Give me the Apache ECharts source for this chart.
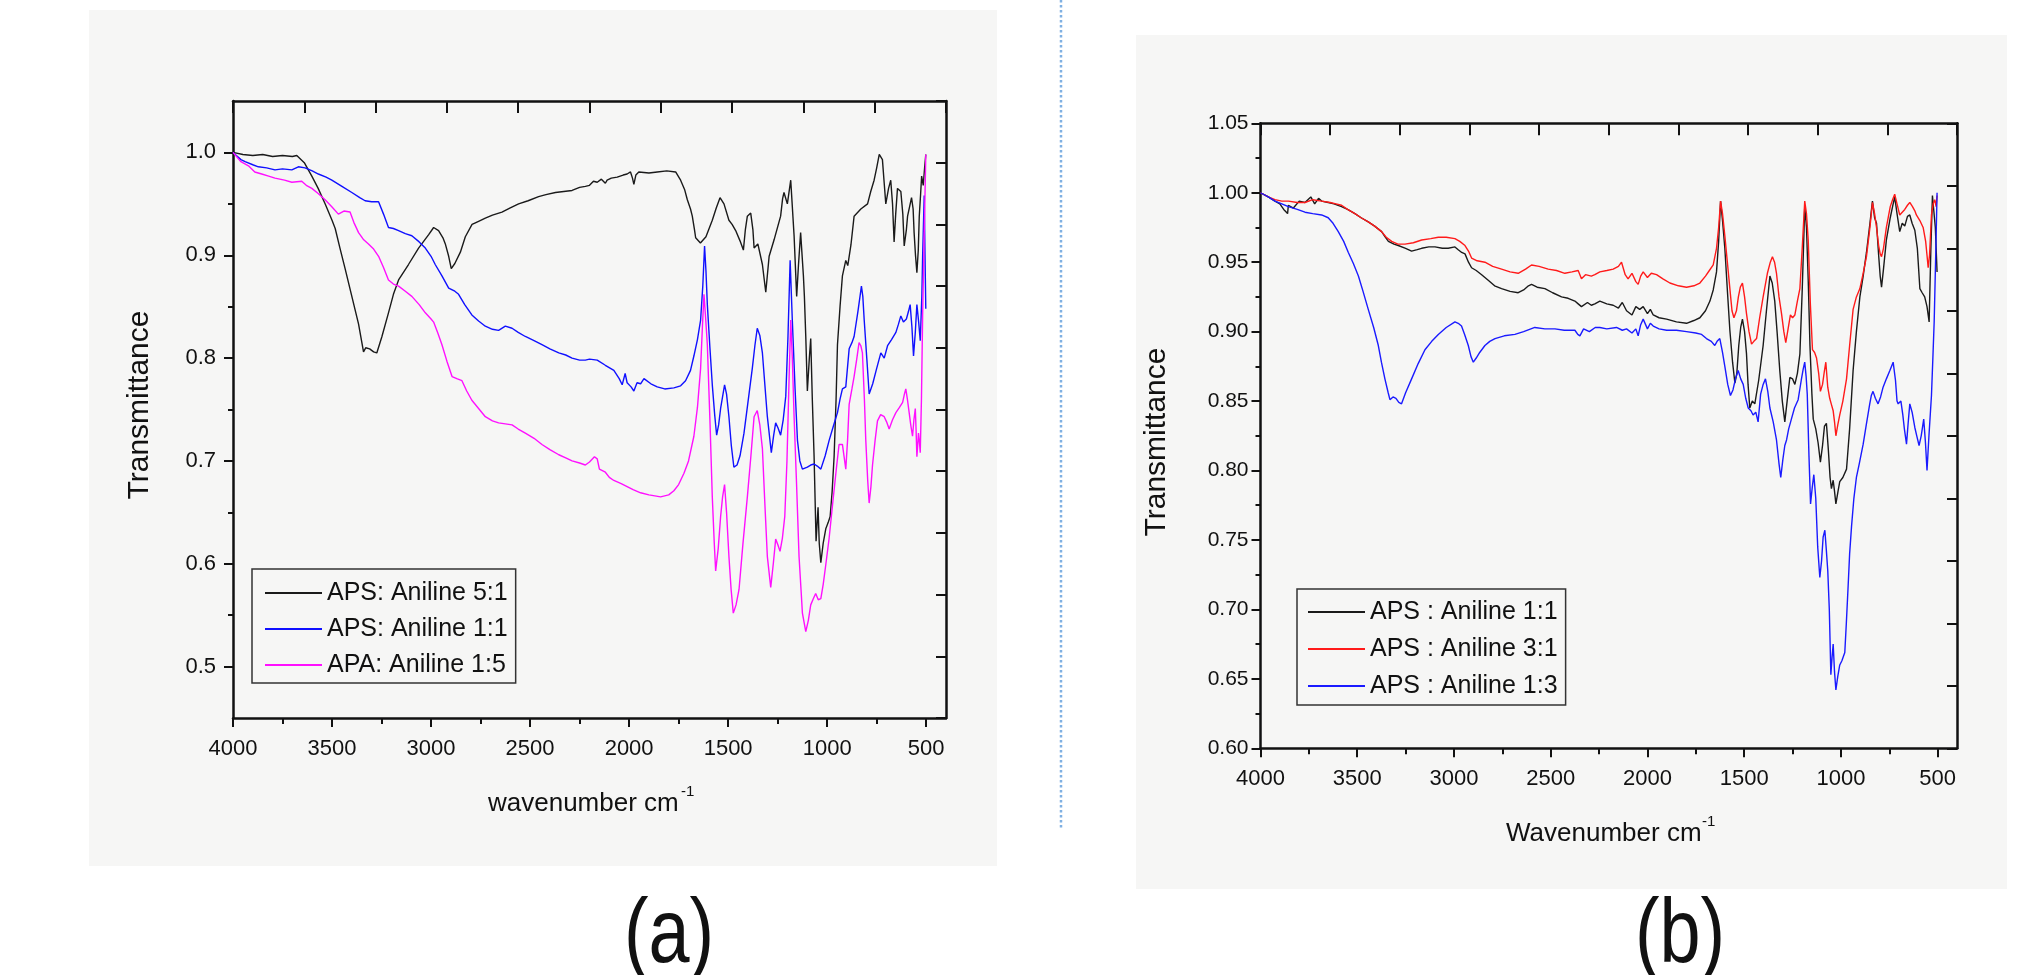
<!DOCTYPE html>
<html>
<head>
<meta charset="utf-8">
<script src="https://cdn.jsdelivr.net/npm/echarts@6/dist/echarts.min.js"></script>
<style>
html,body{margin:0;padding:0;background:#fff;}
#c{width:2017px;height:975px;}
</style>
</head>
<body>
<div id="c"></div>
<script>
// ---------------- DATA ----------------
const seriesNamesA = ['APS: Aniline 5:1', 'APS: Aniline 1:1', 'APA: Aniline 1:5'];
const seriesNamesB = ['APS : Aniline 1:1', 'APS : Aniline 3:1', 'APS : Aniline 1:3'];
const xTickLabels = [4000, 3500, 3000, 2500, 2000, 1500, 1000, 500];
const xMinorTicks = [3750, 3250, 2750, 2250, 1750, 1250, 750];
const yTickLabelsA = [0.5, 0.6, 0.7, 0.8, 0.9, 1.0];
const yMinorTicksA = [0.55, 0.65, 0.75, 0.85, 0.95];
const yTickLabelsB = [0.60, 0.65, 0.70, 0.75, 0.80, 0.85, 0.90, 0.95, 1.00, 1.05];
const yMinorTicksB = [0.625, 0.675, 0.725, 0.775, 0.825, 0.875, 0.925, 0.975, 1.025];

// (a) APS: Aniline 5:1  [wavenumber, transmittance]
const aBlack = [[4000,1.000],[3950,0.998],[3900,0.997],[3850,0.998],[3800,0.996],[3750,0.997],[3700,0.996],[3678,0.997],[3640,0.990],[3602,0.977],[3570,0.965],[3535,0.950],[3500,0.934],[3484,0.926],[3460,0.907],[3434,0.887],[3400,0.860],[3366,0.833],[3341,0.806],[3330,0.810],[3310,0.809],[3290,0.806],[3274,0.805],[3248,0.821],[3215,0.844],[3190,0.862],[3164,0.876],[3114,0.891],[3063,0.907],[3012,0.920],[2987,0.927],[2962,0.924],[2940,0.917],[2928,0.911],[2911,0.899],[2898,0.887],[2880,0.892],[2852,0.903],[2827,0.918],[2793,0.930],[2760,0.933],[2726,0.936],[2690,0.939],[2642,0.942],[2600,0.946],[2558,0.950],[2510,0.953],[2457,0.957],[2420,0.959],[2372,0.961],[2330,0.962],[2288,0.963],[2250,0.966],[2221,0.967],[2200,0.968],[2180,0.972],[2161,0.971],[2140,0.974],[2120,0.970],[2111,0.973],[2090,0.975],[2060,0.976],[2030,0.978],[2010,0.979],[1993,0.981],[1983,0.975],[1976,0.969],[1966,0.978],[1951,0.981],[1900,0.980],[1858,0.981],[1810,0.982],[1765,0.981],[1740,0.973],[1720,0.964],[1706,0.954],[1690,0.945],[1681,0.938],[1670,0.925],[1664,0.917],[1640,0.912],[1630,0.912],[1612,0.918],[1580,0.934],[1560,0.946],[1541,0.956],[1521,0.950],[1496,0.934],[1480,0.930],[1462,0.924],[1440,0.914],[1423,0.905],[1413,0.925],[1403,0.938],[1386,0.941],[1375,0.925],[1369,0.907],[1350,0.911],[1327,0.891],[1310,0.864],[1293,0.899],[1268,0.915],[1235,0.938],[1225,0.955],[1218,0.961],[1201,0.950],[1184,0.973],[1167,0.919],[1154,0.860],[1145,0.890],[1134,0.922],[1120,0.880],[1115,0.860],[1108,0.821],[1100,0.768],[1090,0.800],[1083,0.819],[1075,0.760],[1066,0.704],[1056,0.622],[1046,0.655],[1040,0.620],[1032,0.601],[1020,0.620],[1007,0.634],[995,0.640],[985,0.646],[975,0.670],[965,0.704],[955,0.760],[948,0.813],[935,0.850],[923,0.880],[906,0.895],[896,0.890],[880,0.910],[864,0.938],[830,0.945],[796,0.950],[780,0.962],[763,0.973],[750,0.985],[737,0.998],[721,0.993],[712,0.970],[704,0.950],[690,0.965],[679,0.973],[670,0.950],[662,0.913],[654,0.940],[645,0.965],[628,0.962],[618,0.940],[611,0.909],[600,0.925],[594,0.938],[574,0.956],[566,0.945],[561,0.922],[554,0.900],[547,0.883],[540,0.905],[535,0.938],[528,0.960],[523,0.977],[515,0.968],[508,0.985],[502,0.998]];

// (a) APS: Aniline 1:1
const aBlue = [[4000,1.000],[3960,0.993],[3939,0.991],[3900,0.988],[3872,0.986],[3830,0.985],[3788,0.983],[3750,0.984],[3703,0.983],[3670,0.986],[3636,0.985],[3600,0.982],[3569,0.979],[3530,0.976],[3501,0.973],[3450,0.967],[3400,0.961],[3360,0.956],[3333,0.953],[3300,0.952],[3265,0.952],[3240,0.940],[3215,0.927],[3190,0.926],[3164,0.924],[3130,0.921],[3097,0.919],[3060,0.913],[3029,0.907],[3000,0.899],[2979,0.891],[2945,0.880],[2911,0.868],[2880,0.865],[2861,0.862],[2830,0.852],[2794,0.842],[2760,0.836],[2726,0.831],[2690,0.828],[2659,0.827],[2625,0.831],[2591,0.829],[2560,0.825],[2524,0.821],[2480,0.817],[2440,0.813],[2400,0.809],[2355,0.805],[2320,0.803],[2288,0.800],[2250,0.798],[2221,0.798],[2200,0.799],[2161,0.798],[2120,0.793],[2077,0.788],[2050,0.780],[2035,0.774],[2020,0.785],[2010,0.776],[1990,0.772],[1976,0.768],[1960,0.776],[1942,0.775],[1925,0.780],[1890,0.775],[1858,0.772],[1820,0.770],[1774,0.771],[1740,0.773],[1715,0.778],[1690,0.788],[1673,0.802],[1655,0.818],[1639,0.837],[1628,0.870],[1619,0.909],[1612,0.885],[1605,0.852],[1592,0.810],[1580,0.774],[1568,0.745],[1558,0.725],[1548,0.735],[1538,0.751],[1518,0.774],[1508,0.765],[1496,0.743],[1484,0.715],[1471,0.694],[1455,0.696],[1440,0.705],[1420,0.727],[1400,0.757],[1378,0.790],[1365,0.812],[1353,0.829],[1340,0.822],[1327,0.805],[1315,0.775],[1302,0.743],[1282,0.708],[1270,0.725],[1260,0.737],[1248,0.732],[1235,0.725],[1222,0.740],[1209,0.763],[1198,0.820],[1187,0.895],[1176,0.837],[1162,0.770],[1150,0.720],[1138,0.700],[1125,0.692],[1100,0.694],[1083,0.696],[1066,0.697],[1050,0.695],[1032,0.692],[1010,0.705],[990,0.720],[970,0.733],[948,0.747],[935,0.760],[923,0.770],[906,0.772],[889,0.809],[875,0.815],[864,0.821],[845,0.845],[827,0.870],[820,0.860],[813,0.837],[800,0.800],[788,0.765],[770,0.775],[750,0.790],[729,0.805],[712,0.800],[695,0.812],[675,0.818],[653,0.825],[640,0.833],[628,0.841],[615,0.835],[600,0.838],[590,0.845],[581,0.852],[572,0.830],[564,0.802],[555,0.825],[547,0.852],[538,0.835],[530,0.817],[522,0.860],[518,0.899],[510,0.958],[506,0.900],[502,0.848]];

// (a) APA: Aniline 1:5
const aMagenta = [[4000,1.000],[3960,0.991],[3922,0.987],[3890,0.981],[3855,0.979],[3820,0.977],[3788,0.975],[3740,0.973],[3703,0.971],[3653,0.972],[3630,0.968],[3602,0.965],[3570,0.960],[3535,0.954],[3500,0.947],[3468,0.940],[3440,0.943],[3409,0.942],[3390,0.932],[3366,0.922],[3340,0.915],[3316,0.911],[3290,0.906],[3265,0.899],[3240,0.888],[3215,0.876],[3190,0.872],[3164,0.870],[3130,0.865],[3097,0.860],[3060,0.852],[3029,0.844],[3000,0.838],[2987,0.835],[2965,0.824],[2945,0.813],[2920,0.797],[2894,0.782],[2870,0.780],[2844,0.778],[2820,0.768],[2794,0.759],[2760,0.751],[2726,0.743],[2690,0.739],[2659,0.737],[2625,0.736],[2591,0.735],[2560,0.731],[2524,0.727],[2480,0.722],[2440,0.716],[2400,0.711],[2355,0.706],[2320,0.703],[2288,0.700],[2250,0.698],[2221,0.696],[2200,0.699],[2175,0.704],[2161,0.702],[2150,0.692],[2120,0.689],[2100,0.684],[2077,0.681],[2040,0.678],[2010,0.675],[1980,0.672],[1942,0.669],[1900,0.667],[1870,0.666],[1841,0.665],[1800,0.667],[1774,0.671],[1750,0.677],[1723,0.688],[1700,0.700],[1673,0.724],[1655,0.752],[1639,0.790],[1630,0.830],[1622,0.862],[1614,0.840],[1605,0.813],[1592,0.740],[1580,0.665],[1570,0.620],[1563,0.593],[1550,0.615],[1538,0.646],[1528,0.665],[1518,0.677],[1508,0.650],[1496,0.607],[1485,0.575],[1474,0.552],[1460,0.560],[1445,0.575],[1425,0.620],[1403,0.665],[1385,0.705],[1369,0.743],[1353,0.749],[1340,0.735],[1327,0.712],[1315,0.660],[1302,0.607],[1285,0.577],[1272,0.600],[1260,0.624],[1248,0.618],[1238,0.612],[1226,0.625],[1214,0.646],[1203,0.700],[1192,0.782],[1184,0.837],[1176,0.800],[1167,0.743],[1155,0.680],[1142,0.607],[1132,0.575],[1125,0.552],[1108,0.534],[1095,0.545],[1083,0.560],[1070,0.566],[1058,0.571],[1045,0.565],[1032,0.566],[1020,0.580],[1007,0.599],[990,0.625],[973,0.657],[955,0.690],[940,0.716],[923,0.716],[906,0.692],[897,0.720],[889,0.755],[875,0.770],[864,0.782],[850,0.800],[839,0.815],[830,0.812],[822,0.805],[812,0.760],[805,0.720],[795,0.680],[788,0.659],[779,0.675],[771,0.696],[758,0.720],[746,0.739],[730,0.745],[712,0.743],[700,0.738],[687,0.731],[670,0.740],[653,0.747],[635,0.752],[619,0.757],[610,0.765],[603,0.770],[595,0.760],[586,0.747],[578,0.735],[569,0.724],[562,0.740],[555,0.751],[551,0.730],[547,0.704],[543,0.715],[539,0.727],[534,0.718],[530,0.708],[524,0.760],[518,0.841],[510,0.920],[502,0.998]];

// (b) APS : Aniline 1:1
const bBlack = [[4000,1.000],[3960,0.997],[3925,0.994],[3900,0.992],[3880,0.988],[3860,0.985],[3856,0.991],[3830,0.989],[3800,0.994],[3770,0.993],[3740,0.997],[3720,0.992],[3700,0.996],[3684,0.994],[3650,0.993],[3620,0.992],[3581,0.990],[3550,0.988],[3512,0.985],[3480,0.982],[3443,0.979],[3410,0.976],[3374,0.972],[3355,0.968],[3339,0.965],[3310,0.963],[3288,0.962],[3250,0.960],[3219,0.958],[3190,0.959],[3167,0.960],[3130,0.961],[3098,0.961],[3060,0.960],[3030,0.960],[2995,0.961],[2978,0.959],[2960,0.957],[2943,0.956],[2925,0.950],[2909,0.946],[2885,0.944],[2857,0.941],[2840,0.939],[2823,0.937],[2790,0.933],[2754,0.931],[2710,0.929],[2668,0.928],[2640,0.930],[2615,0.933],[2599,0.934],[2570,0.932],[2530,0.931],[2490,0.928],[2444,0.925],[2410,0.924],[2375,0.922],[2358,0.920],[2341,0.918],[2310,0.921],[2290,0.919],[2272,0.920],[2246,0.922],[2210,0.920],[2177,0.919],[2150,0.917],[2130,0.921],[2108,0.915],[2080,0.912],[2060,0.918],[2040,0.916],[2022,0.918],[2000,0.913],[1985,0.916],[1970,0.912],[1940,0.910],[1901,0.909],[1850,0.907],[1798,0.906],[1760,0.908],[1729,0.910],[1700,0.915],[1677,0.922],[1660,0.930],[1643,0.943],[1632,0.965],[1622,0.994],[1612,0.980],[1600,0.960],[1587,0.930],[1574,0.901],[1560,0.878],[1548,0.863],[1538,0.870],[1528,0.890],[1518,0.903],[1509,0.909],[1498,0.900],[1488,0.884],[1480,0.862],[1471,0.845],[1458,0.850],[1445,0.848],[1425,0.865],[1402,0.890],[1385,0.915],[1367,0.940],[1355,0.935],[1342,0.922],[1330,0.900],[1316,0.872],[1303,0.850],[1290,0.835],[1278,0.850],[1264,0.867],[1250,0.866],[1238,0.862],[1225,0.870],[1212,0.884],[1200,0.930],[1187,0.990],[1178,0.975],[1169,0.937],[1160,0.890],[1150,0.855],[1143,0.837],[1130,0.830],[1118,0.820],[1106,0.806],[1095,0.818],[1085,0.832],[1075,0.834],[1065,0.815],[1056,0.795],[1049,0.787],[1040,0.793],[1033,0.785],[1026,0.776],[1015,0.785],[1006,0.792],[990,0.795],[971,0.801],[955,0.830],[937,0.872],[920,0.900],[902,0.925],[885,0.940],[868,0.957],[850,0.978],[837,0.994],[826,0.982],[816,0.978],[805,0.955],[797,0.940],[790,0.932],[780,0.945],[765,0.966],[745,0.982],[733,0.990],[722,0.997],[710,0.985],[696,0.972],[683,0.978],[670,0.976],[656,0.983],[644,0.984],[632,0.978],[618,0.973],[605,0.960],[592,0.931],[580,0.928],[567,0.925],[555,0.918],[544,0.907],[535,0.960],[527,0.998],[520,0.997],[512,0.975],[503,0.943]];

// (b) APS : Aniline 3:1
const bRed = [[4000,1.000],[3960,0.997],[3925,0.995],[3890,0.994],[3856,0.994],[3810,0.993],[3770,0.993],[3730,0.995],[3684,0.994],[3640,0.993],[3610,0.992],[3581,0.991],[3550,0.988],[3512,0.985],[3480,0.982],[3443,0.979],[3410,0.976],[3374,0.972],[3350,0.968],[3322,0.965],[3290,0.963],[3253,0.963],[3210,0.964],[3167,0.966],[3120,0.967],[3081,0.968],[3040,0.968],[2995,0.967],[2970,0.965],[2943,0.962],[2925,0.958],[2909,0.953],[2880,0.951],[2840,0.950],[2800,0.947],[2754,0.945],[2710,0.943],[2668,0.942],[2630,0.945],[2599,0.948],[2560,0.947],[2513,0.945],[2470,0.944],[2427,0.942],[2390,0.943],[2358,0.944],[2341,0.938],[2320,0.941],[2290,0.940],[2272,0.941],[2246,0.943],[2210,0.944],[2177,0.945],[2150,0.947],[2134,0.950],[2115,0.941],[2100,0.938],[2080,0.942],[2060,0.936],[2048,0.934],[2035,0.940],[2022,0.943],[2000,0.939],[1980,0.942],[1953,0.941],[1920,0.938],[1884,0.935],[1840,0.933],[1798,0.932],[1760,0.933],[1729,0.935],[1700,0.940],[1680,0.944],[1660,0.948],[1643,0.960],[1632,0.975],[1622,0.994],[1612,0.985],[1600,0.969],[1587,0.950],[1574,0.931],[1563,0.915],[1553,0.910],[1540,0.915],[1530,0.925],[1520,0.932],[1509,0.935],[1498,0.925],[1488,0.913],[1475,0.900],[1462,0.891],[1450,0.893],[1436,0.895],[1420,0.910],[1402,0.925],[1380,0.942],[1365,0.950],[1354,0.954],[1343,0.950],[1333,0.942],[1320,0.925],[1307,0.913],[1295,0.900],[1285,0.892],[1273,0.902],[1261,0.912],[1250,0.910],[1238,0.912],[1225,0.922],[1212,0.931],[1200,0.960],[1187,0.994],[1178,0.985],[1169,0.966],[1158,0.920],[1147,0.887],[1136,0.885],[1126,0.881],[1115,0.870],[1106,0.857],[1095,0.862],[1085,0.872],[1078,0.878],[1068,0.860],[1058,0.852],[1050,0.848],[1040,0.843],[1033,0.835],[1026,0.825],[1016,0.833],[1006,0.840],[990,0.850],[971,0.866],[955,0.890],[937,0.916],[920,0.925],[902,0.931],[885,0.942],[868,0.954],[850,0.975],[837,0.993],[826,0.985],[816,0.975],[805,0.962],[797,0.956],[790,0.954],[780,0.960],[765,0.975],[745,0.990],[733,0.995],[722,0.999],[710,0.992],[696,0.984],[683,0.986],[670,0.988],[656,0.991],[644,0.993],[630,0.990],[618,0.987],[610,0.984],[592,0.980],[575,0.975],[562,0.965],[555,0.955],[549,0.946],[542,0.955],[532,0.984],[523,0.992],[515,0.995],[508,0.990],[503,0.998]];

// (b) APS : Aniline 1:3
const bBlue = [[4000,1.000],[3960,0.997],[3925,0.994],[3890,0.992],[3856,0.990],[3810,0.988],[3770,0.986],[3730,0.985],[3684,0.984],[3650,0.982],[3625,0.978],[3598,0.972],[3570,0.965],[3546,0.957],[3520,0.949],[3494,0.940],[3470,0.929],[3443,0.916],[3415,0.903],[3391,0.890],[3375,0.878],[3357,0.866],[3340,0.856],[3331,0.851],[3315,0.853],[3300,0.852],[3285,0.849],[3271,0.848],[3250,0.856],[3219,0.866],[3185,0.877],[3150,0.887],[3115,0.893],[3081,0.898],[3040,0.903],[2995,0.907],[2978,0.906],[2961,0.904],[2945,0.898],[2926,0.890],[2912,0.882],[2900,0.878],[2885,0.881],[2867,0.885],[2840,0.890],[2815,0.893],[2788,0.895],[2740,0.897],[2685,0.898],[2640,0.900],[2582,0.903],[2530,0.902],[2478,0.902],[2430,0.901],[2375,0.901],[2360,0.898],[2349,0.897],[2330,0.902],[2300,0.900],[2270,0.903],[2246,0.903],[2210,0.902],[2160,0.903],[2130,0.901],[2108,0.902],[2080,0.899],[2060,0.902],[2048,0.897],[2035,0.905],[2022,0.909],[2000,0.902],[1985,0.906],[1970,0.904],[1940,0.902],[1901,0.901],[1850,0.901],[1798,0.900],[1750,0.899],[1720,0.898],[1695,0.895],[1670,0.893],[1652,0.890],[1640,0.893],[1626,0.895],[1612,0.885],[1600,0.875],[1585,0.862],[1571,0.854],[1558,0.858],[1545,0.866],[1531,0.872],[1518,0.866],[1505,0.862],[1492,0.852],[1479,0.845],[1465,0.843],[1454,0.840],[1440,0.842],[1428,0.835],[1415,0.855],[1402,0.862],[1390,0.866],[1378,0.857],[1367,0.845],[1350,0.835],[1333,0.822],[1320,0.805],[1311,0.795],[1300,0.808],[1290,0.818],[1281,0.822],[1270,0.830],[1256,0.837],[1240,0.845],[1221,0.851],[1205,0.865],[1195,0.873],[1187,0.878],[1180,0.868],[1174,0.855],[1165,0.810],[1157,0.776],[1148,0.788],[1140,0.797],[1130,0.780],[1120,0.745],[1109,0.723],[1100,0.735],[1092,0.752],[1083,0.757],[1075,0.742],[1068,0.728],[1060,0.700],[1052,0.653],[1046,0.665],[1040,0.675],[1033,0.655],[1026,0.642],[1016,0.652],[1006,0.660],[995,0.663],[980,0.669],[972,0.690],[963,0.716],[955,0.740],[945,0.760],[933,0.780],[920,0.795],[905,0.805],[885,0.819],[870,0.832],[851,0.848],[843,0.854],[834,0.857],[822,0.852],[808,0.848],[795,0.853],[782,0.860],[765,0.866],[747,0.872],[730,0.878],[718,0.865],[710,0.850],[704,0.848],[690,0.850],[680,0.840],[672,0.830],[661,0.819],[652,0.835],[644,0.848],[632,0.842],[618,0.831],[608,0.825],[596,0.818],[585,0.825],[572,0.837],[563,0.820],[555,0.800],[545,0.825],[532,0.854],[525,0.880],[518,0.907],[510,0.955],[503,1.000]];

// ---------------- CHART ----------------
const FONT = "'Liberation Sans', Arial, Helvetica, sans-serif";
const INK = '#111';

function xMain(g) {
  return { gridIndex: g, type: 'value', position: 'bottom', inverse: true, min: 400, max: 4000,
    axisLine: { show: true, onZero: false, lineStyle: { color: INK, width: 2.5 } },
    axisTick: { show: true, inside: false, length: 9, customValues: xTickLabels, lineStyle: { color: INK, width: 2 } },
    axisLabel: { show: true, customValues: xTickLabels, margin: 20, fontSize: 22, color: INK, fontFamily: FONT,
      formatter: v => String(Math.round(v)) },
    splitLine: { show: false } };
}
function xMinor(g) {
  return { gridIndex: g, type: 'value', position: 'bottom', inverse: true, min: 400, max: 4000,
    axisLine: { show: false, onZero: false },
    axisTick: { show: true, inside: false, length: 6, customValues: xMinorTicks, lineStyle: { color: INK, width: 2 } },
    axisLabel: { show: false }, splitLine: { show: false } };
}
function xTop(g) {
  return { gridIndex: g, type: 'value', position: 'top', min: 0, max: 10, interval: 1,
    axisLine: { show: true, onZero: false, lineStyle: { color: INK, width: 2.5 } },
    axisTick: { show: true, inside: true, length: 12, lineStyle: { color: INK, width: 2 } },
    axisLabel: { show: false }, splitLine: { show: false } };
}
function yMain(g, min, max, labels, dec, margin, fs) {
  return { gridIndex: g, type: 'value', position: 'left', min: min, max: max,
    axisLine: { show: true, onZero: false, lineStyle: { color: INK, width: 2.5 } },
    axisTick: { show: true, inside: false, length: 9, customValues: labels, lineStyle: { color: INK, width: 2 } },
    axisLabel: { show: true, customValues: labels, margin: margin, fontSize: fs, color: INK, fontFamily: FONT,
      formatter: v => Number(v).toFixed(dec) },
    splitLine: { show: false } };
}
function yMinor(g, min, max, ticks) {
  return { gridIndex: g, type: 'value', position: 'left', min: min, max: max,
    axisLine: { show: false, onZero: false },
    axisTick: { show: true, inside: false, length: 5, customValues: ticks, lineStyle: { color: INK, width: 2 } },
    axisLabel: { show: false }, splitLine: { show: false } };
}
function yRight(g) {
  return { gridIndex: g, type: 'value', position: 'right', min: 0, max: 10, interval: 1,
    axisLine: { show: true, onZero: false, lineStyle: { color: INK, width: 2.5 } },
    axisTick: { show: true, inside: true, length: 10, lineStyle: { color: INK, width: 2 } },
    axisLabel: { show: false }, splitLine: { show: false } };
}
function line(name, data, color, xi, yi) {
  return { name: name, type: 'line', data: data, xAxisIndex: xi, yAxisIndex: yi,
    showSymbol: false, symbol: 'none', smooth: false, color: color,
    lineStyle: { color: color, width: 1.4 }, itemStyle: { color: color },
    emphasis: { disabled: true }, silent: true, z: 3 };
}
function legendCfg(names, left, top, padding, gap) {
  return { data: names, orient: 'vertical', left: left, top: top, padding: padding,
    itemGap: gap, itemWidth: 57, itemHeight: 2, icon: 'rect', selectedMode: false,
    borderColor: '#333', borderWidth: 1.5, backgroundColor: 'rgba(0,0,0,0)',
    textStyle: { fontSize: 25, fontFamily: FONT, color: INK, lineHeight: 30 } };
}
function txt(text, x, y, size, opts) {
  opts = opts || {};
  return { type: 'text', x: x, y: y, rotation: opts.rotation || 0, scaleX: opts.scaleX || 1, z: 10, silent: true,
    style: { text: text, fontSize: size, fontFamily: FONT, fill: INK,
      align: opts.align || 'left', verticalAlign: opts.va || 'middle' } };
}

const chart = echarts.init(document.getElementById('c'), null, { renderer: 'canvas' });
chart.setOption({
  animation: false,
  backgroundColor: '#ffffff',
  grid: [
    { left: 233, top: 101, width: 713, height: 617, outerBoundsMode: 'none', containLabel: false },
    { left: 1260.5, top: 123.3, width: 696.5, height: 625, outerBoundsMode: 'none', containLabel: false }
  ],
  xAxis: [xMain(0), xMinor(0), xTop(0), xMain(1), xMinor(1), xTop(1)],
  yAxis: [
    yMain(0, 0.45, 1.05, yTickLabelsA, 1, 17, 22), yMinor(0, 0.45, 1.05, yMinorTicksA), yRight(0),
    yMain(1, 0.60, 1.05, yTickLabelsB, 2, 12, 21), yMinor(1, 0.60, 1.05, yMinorTicksB), yRight(1)
  ],
  legend: [
    legendCfg(seriesNamesA, 252, 569, [9, 8, 3, 13], 6),
    legendCfg(seriesNamesB, 1297, 589, [8, 8, 4, 11], 7)
  ],
  series: [
    line(seriesNamesA[0], aBlack, '#1a1a1a', 0, 0),
    line(seriesNamesA[1], aBlue, '#1010ff', 0, 0),
    line(seriesNamesA[2], aMagenta, '#ff10ff', 0, 0),
    line(seriesNamesB[0], bBlack, '#1a1a1a', 3, 3),
    line(seriesNamesB[1], bRed, '#ff1a1a', 3, 3),
    line(seriesNamesB[2], bBlue, '#1a1aff', 3, 3)
  ],
  graphic: [
    { type: 'rect', shape: { x: 89, y: 10, width: 908, height: 856 }, style: { fill: '#f6f6f5' }, z: -10, silent: true },
    { type: 'rect', shape: { x: 1136, y: 35, width: 871, height: 854 }, style: { fill: '#f6f6f5' }, z: -10, silent: true },
    { type: 'line', shape: { x1: 1061, y1: 0, x2: 1061, y2: 828 }, style: { stroke: '#7fb0e2', lineWidth: 2.5, lineDash: [2.5, 2.5] }, z: -5, silent: true },
    txt('Transmittance', 140, 405, 30, { rotation: Math.PI / 2, align: 'center' }),
    txt('wavenumber cm', 488, 804, 26),
    txt('-1', 681, 792, 15),
    txt('Transmittance', 1157, 442, 30, { rotation: Math.PI / 2, align: 'center' }),
    txt('Wavenumber cm', 1506, 834, 26),
    txt('-1', 1702, 822, 15),
    txt('(a)', 669, 937, 90, { align: 'center', scaleX: 0.82 }),
    txt('(b)', 1680, 937, 90, { align: 'center', scaleX: 0.82 })
  ]
});
</script>
</body>
</html>
